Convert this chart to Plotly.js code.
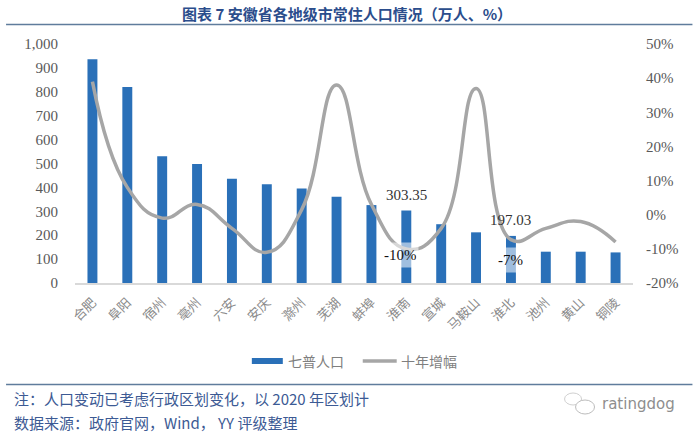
<!DOCTYPE html>
<html>
<head>
<meta charset="utf-8">
<script src="https://cdn.plot.ly/plotly-3.0.1.min.js"></script>
<style>html,body{margin:0;padding:0;background:#fff}#plot{width:700px;height:435px}</style>
</head>
<body>
<div id="plot"></div>
<script>
// 安徽省各地级市常住人口 - bars on the left axis, ten-year change on the right
const CITIES = ['合肥','阜阳','宿州','亳州','六安','安庆','滁州','芜湖','蚌埠','淮南','宣城','马鞍山','淮北','池州','黄山','铜陵'];
const POPULATION = [936, 820, 530, 498, 436, 413, 395, 361, 326, 303.35, 246, 212, 197.03, 131, 131, 128];
const GROWTH = [39, 8, -1, 3, -4, -11, 1.5, 38, 3, -10, -4, 37, -7.3, -4, -2, -8];
const LEFT_TICKS = [0, 100, 200, 300, 400, 500, 600, 700, 800, 900, 1000];
const RIGHT_TICKS = [-20, -10, 0, 10, 20, 30, 40, 50];
const RIGHT_LABELS = ['-20%', '-10%', '0%', '10%', '20%', '30%', '40%', '50%'];

const BLUE = '#2a70b8', GREY = '#a6a6a6', INK = '#3c5a94', RULE = '#5f7c9c';
const SERIF = '"Liberation Serif", serif', CJK = '"Noto Sans CJK SC", sans-serif';
const tickFont = { family: SERIF, size: 15, color: '#595959' };

const traces = [
  { type: 'bar', x: CITIES, y: POPULATION, name: '七普人口', width: 0.285, marker: { color: BLUE } },
  { type: 'scatter', mode: 'lines', x: CITIES, y: GROWTH, yaxis: 'y2', name: '十年增幅',
    line: { color: GREY, width: 3.5, shape: 'spline', smoothing: 1.3 } },
];

// helpers below convert window pixels to paper coordinates
const L = 75, R = 633.5, T = 44, B = 283;
const px = (x) => (x - L) / (R - L);
const py = (y) => (B - y) / (B - T);

const rule = (y) => ({ type: 'line', xref: 'paper', yref: 'paper', x0: px(6), x1: px(693), y0: py(y), y1: py(y), line: { color: RULE, width: 1.5 } });
const note = (text, x, y, font, anchor) => ({ text, xref: 'paper', yref: 'paper', x: px(x), y: py(y), showarrow: false, xanchor: anchor || 'left', yanchor: 'middle', font });

const labelBg = 'rgba(255,255,255,0.55)';
const legendFont = { family: CJK, size: 14, color: '#7f7f7f' };
const valueFont = { family: SERIF, size: 15, color: '#333' };
const pctFont = { family: SERIF, size: 15, color: '#111' };

const layout = {
  width: 700, height: 435,
  margin: { l: L, r: 700 - R, t: T, b: 435 - B, pad: 0 },
  paper_bgcolor: '#fff', plot_bgcolor: '#fff',
  showlegend: false,
  xaxis: { type: 'category', tickangle: -45, tickfont: { family: CJK, size: 13, color: '#8a8a8a' },
    showline: true, linecolor: '#d9d9d9', linewidth: 1.5, ticks: '', showgrid: false, ticklabelstandoff: 5 },
  yaxis: { range: [0, 1000], tickvals: LEFT_TICKS, tickformat: ',d', tickfont: tickFont, showgrid: false,
    zeroline: false, showline: false, ticks: '', ticklabelstandoff: 16 },
  yaxis2: { range: [-20, 50], overlaying: 'y', side: 'right', tickvals: RIGHT_TICKS, ticktext: RIGHT_LABELS, tickfont: tickFont,
    showgrid: false, zeroline: false, showline: false, ticks: '', ticklabelstandoff: 12 },
  shapes: [
    rule(24.5),
    rule(384.5),
    // legend swatches
    { type: 'rect', xref: 'paper', yref: 'paper', x0: px(252), x1: px(283), y0: py(364), y1: py(358), fillcolor: BLUE, line: { width: 0 } },
    { type: 'line', xref: 'paper', yref: 'paper', x0: px(363), x1: px(397), y0: py(361), y1: py(361), line: { color: GREY, width: 3.5 } },
    // watermark bubbles
    { type: 'circle', xref: 'paper', yref: 'paper', x0: px(565), x1: px(582), y0: py(405), y1: py(393), line: { color: '#d0d0d0', width: 1 } },
    { type: 'circle', xref: 'paper', yref: 'paper', x0: px(576), x1: px(595), y0: py(414), y1: py(400), fillcolor: '#fff', line: { color: '#bcbcbc', width: 1 } },
  ],
  annotations: [
    note('图表 7 安徽省各地级市常住人口情况（万人、%）', 347, 13, { family: CJK, size: 15, color: '#2b4d8c', weight: 700 }, 'center'),
    note('七普人口', 286, 361, legendFont),
    note('十年增幅', 399, 361, legendFont),
    note('注：人口变动已考虑行政区划变化，以 2020 年区划计', 12, 398, { family: CJK, size: 15, color: INK }),
    note('数据来源：政府官网，Wind， YY 评级整理', 12, 422, { family: CJK, size: 15, color: INK }),
    note('ratingdog', 600, 404, { family: '"DejaVu Sans", sans-serif', size: 15, color: '#8e8e8e' }),
    { x: '淮南', y: POPULATION[9], text: '303.35', showarrow: false, yanchor: 'bottom', yshift: 6, font: valueFont },
    { x: '淮北', y: POPULATION[12], text: '197.03', showarrow: false, yanchor: 'bottom', yshift: 6, font: valueFont },
    { x: '淮南', y: GROWTH[9], yref: 'y2', text: '-10%', showarrow: false, yshift: -6, xshift: -6, height: 22, bgcolor: labelBg, font: pctFont },
    { x: '淮北', y: GROWTH[12], yref: 'y2', text: '-7%', showarrow: false, yshift: -20, height: 22, bgcolor: labelBg, font: pctFont },
  ],
};

Plotly.newPlot('plot', traces, layout, { displayModeBar: false, responsive: false });
</script>
</body>
</html>
